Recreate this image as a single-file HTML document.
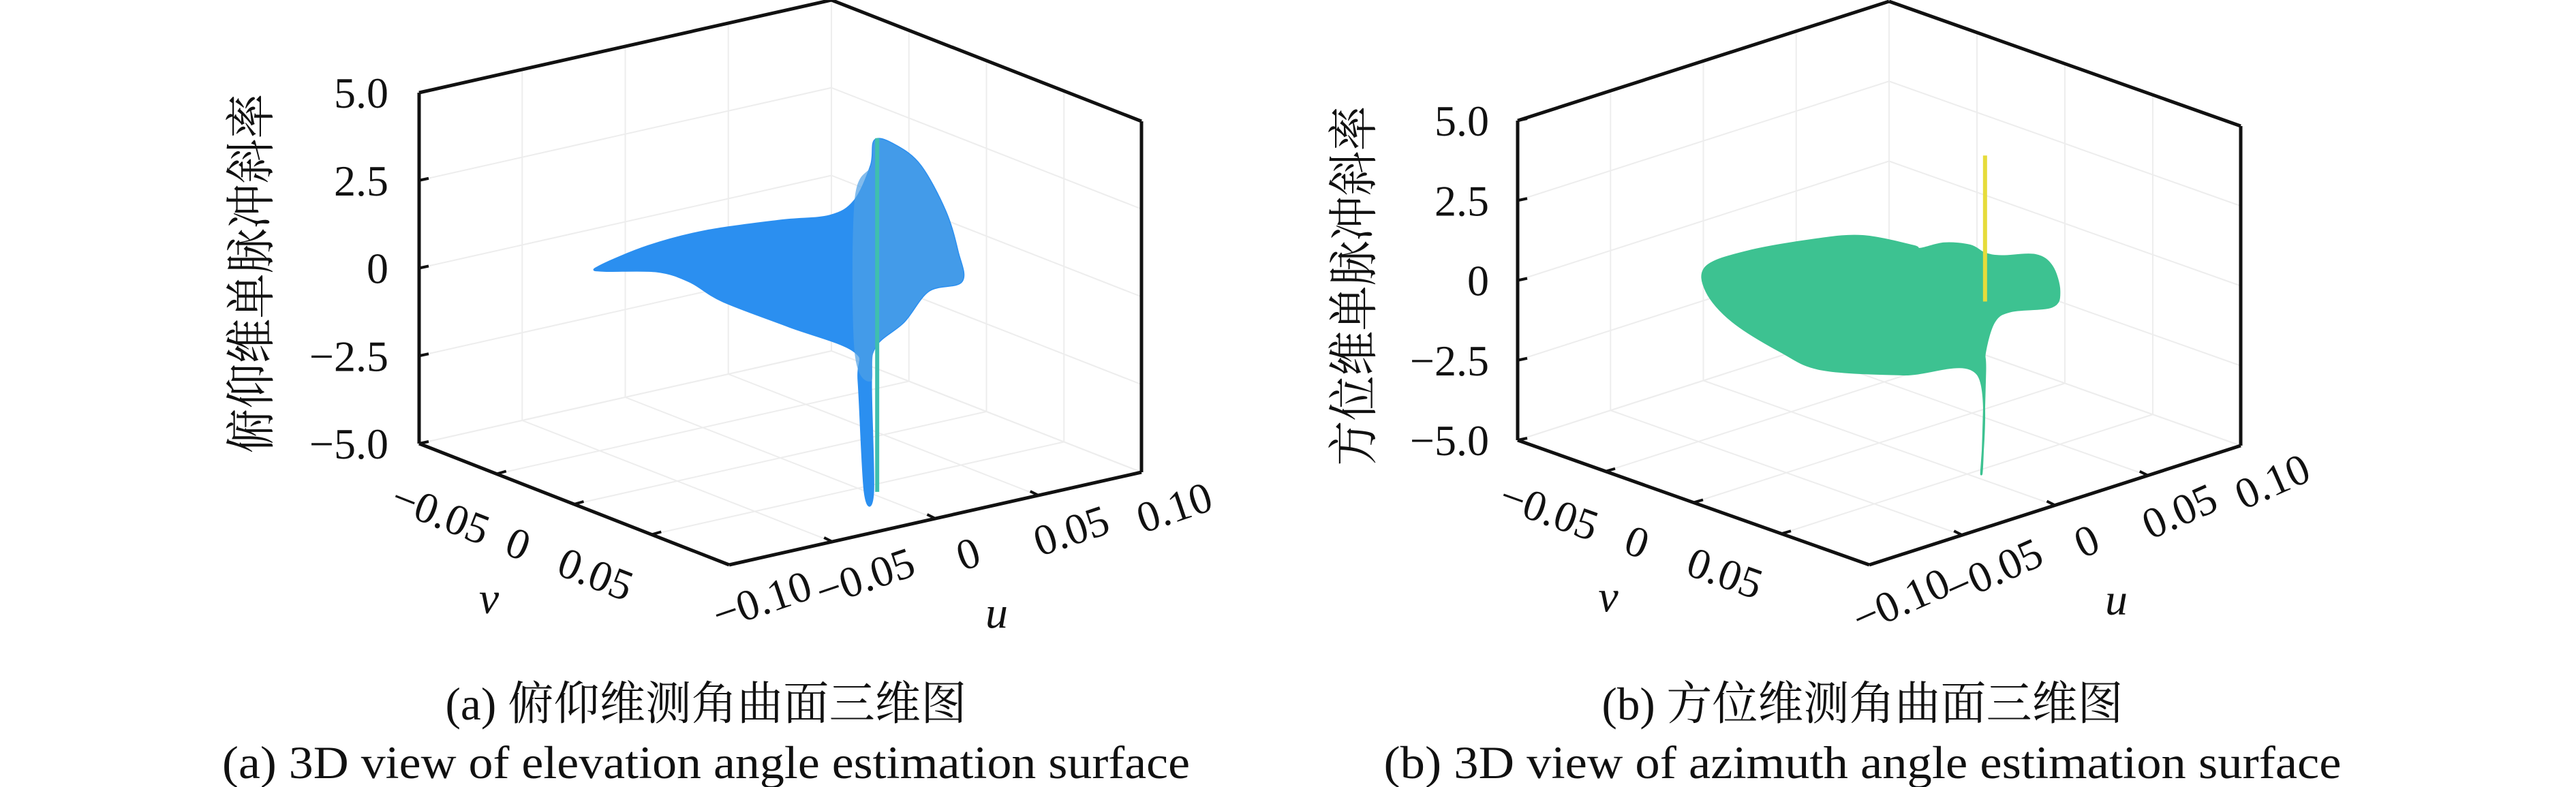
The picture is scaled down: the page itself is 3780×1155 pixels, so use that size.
<!DOCTYPE html>
<html><head><meta charset="utf-8"><style>
html,body{margin:0;padding:0;background:#fff;}
svg{display:block;}
text{font-family:"Liberation Serif","Noto Serif CJK SC",serif;fill:#111;}
</style></head><body>
<svg id="fig" width="3780" height="1155" viewBox="0 0 3780 1155" xmlns="http://www.w3.org/2000/svg">
<rect width="3780" height="1155" fill="#fff"/>
<g id="pa"></g>
<g id="pb"></g>
<text x="1036" y="1056" font-size="68" text-anchor="middle" textLength="765" lengthAdjust="spacingAndGlyphs">(a) 俯仰维测角曲面三维图</text>
<text x="1036" y="1142" font-size="68" text-anchor="middle" textLength="1420" lengthAdjust="spacingAndGlyphs">(a) 3D view of elevation angle estimation surface</text>
<text x="2733" y="1056" font-size="68" text-anchor="middle" textLength="765" lengthAdjust="spacingAndGlyphs">(b) 方位维测角曲面三维图</text>
<text x="2733" y="1142" font-size="68" text-anchor="middle" textLength="1405" lengthAdjust="spacingAndGlyphs">(b) 3D view of azimuth angle estimation surface</text>
</svg>
<script>
const zTicks=[-5,-2.5,0,2.5,5];
const zTickLabels=["−5.0","−2.5","0","2.5","5.0"];
const uTicks=[-0.1,-0.05,0,0.05,0.1];
const uTickLabels=["−0.10","−0.05","0","0.05","0.10"];
const vTicks=[-0.05,0,0.05];
const vTickLabels=["−0.05","0","0.05"];
const aSurfU=[-0.088,-0.064,-0.036,0.0,0.024,0.036,0.044,0.046,0.056,0.068,0.080,0.086,0.088,0.072,0.060,0.046,0.044,0.045,0.041,0.038,0.036,0.004,-0.028,-0.044,-0.060,-0.086];
const aSurfZ=[1.61,1.88,1.94,1.76,1.58,1.85,2.75,3.45,3.16,2.43,0.98,-0.25,-1.13,-1.19,-1.91,-2.44,-3.40,-6.56,-6.51,-3.32,-2.44,-1.30,-0.16,0.61,1.11,1.47];
const aMeshIdx=[5,6,7,8,9,10,11,12,13,14,15,16,20];
const aSpikeU=[0.047,0.047];
const aSpikeZ=[3.49,-6.59];
const bSurfU=[-0.093,-0.071,-0.035,-0.009,0.018,0.022,0.035,0.049,0.057,0.066,0.084,0.093,0.097,0.093,0.071,0.062,0.057,0.057,0.055,0.053,0.013,-0.031,-0.053,-0.079,-0.093];
const bSurfZ=[2.25,2.31,2.01,1.64,0.83,0.66,0.59,0.26,-0.14,-0.39,-0.69,-1.21,-2.06,-2.47,-2.20,-2.36,-3.21,-3.90,-7.01,-3.84,-3.10,-2.12,-1.15,0.28,1.48];
const bSpikeU=[0.057,0.057];
const bSpikeZ=[2.93,-1.64];

const NS="http://www.w3.org/2000/svg";
function mk(parent,tag,attrs){const e=document.createElementNS(NS,tag);for(const k in attrs)e.setAttribute(k,attrs[k]);parent.appendChild(e);return e;}
function smooth(pts){const n=pts.length;let d=`M${pts[0][0]},${pts[0][1]}`;
  for(let i=0;i<n;i++){const p0=pts[(i-1+n)%n],p1=pts[i],p2=pts[(i+1)%n],p3=pts[(i+2)%n];
    const c1=[p1[0]+(p2[0]-p0[0])/6,p1[1]+(p2[1]-p0[1])/6],c2=[p2[0]-(p3[0]-p1[0])/6,p2[1]-(p3[1]-p1[1])/6];
    d+=` C${c1[0]},${c1[1]} ${c2[0]},${c2[1]} ${p2[0]},${p2[1]}`;}
  return d+'Z';}

function panel(gid,P,title,surfU,surfZ,fill,spikeU,spikeZ,spikeColor,meshIdx,titleX,tickRight){
  const g=document.getElementById(gid);
  const proj=(u,v,z)=>[P.F[0]+(u+0.1)/0.2*P.U[0]+(v-0.1)/0.2*P.V[0], P.F[1]+(u+0.1)/0.2*P.U[1]+(v-0.1)/0.2*P.V[1]-(z+5)/10*P.H];
  const line=(a,b,stroke,w,name)=>{const l=mk(g,'line',{x1:a[0],y1:a[1],x2:b[0],y2:b[1],stroke:stroke,'stroke-width':w});
    
    return l;};
  const gc="#ededed";
  uTicks.forEach(u=>{line(proj(u,-0.1,-5),proj(u,-0.1,5),gc,2,'grid-line-u-wall');line(proj(u,-0.1,-5),proj(u,0.1,-5),gc,2,'grid-line-u-floor');});
  vTicks.concat([-0.1,0.1]).forEach(v=>{line(proj(0.1,v,-5),proj(0.1,v,5),gc,2,'grid-line-v-wall');line(proj(-0.1,v,-5),proj(0.1,v,-5),gc,2,'grid-line-v-floor');});
  zTicks.forEach(z=>{line(proj(-0.1,-0.1,z),proj(0.1,-0.1,z),gc,2,'grid-line-z');line(proj(0.1,-0.1,z),proj(0.1,0.1,z),gc,2,'grid-line-z');});
  const pts=surfU.map((u,i)=>proj(u,0,surfZ[i]));
  const s=mk(g,'path',{d:smooth(pts),fill:fill,stroke:fill,'stroke-width':3,'stroke-linejoin':'round'});
  
  
  if(meshIdx){const mp=meshIdx.map(i=>pts[i]);
    const m=mk(g,'path',{d:smooth(mp),fill:'#4f9fe6',stroke:'none',opacity:0.7});
    
    }
  line(proj(spikeU[0],0,spikeZ[0]),proj(spikeU[1],0,spikeZ[1]),spikeColor,6,'surface-spike');
  const k="#111";
  line(proj(-0.1,-0.1,-5),proj(-0.1,-0.1,5),k,5,'z-axis-line');
  line(proj(-0.1,-0.1,5),proj(0.1,-0.1,5),k,5,'box-edge');
  line(proj(0.1,-0.1,5),proj(0.1,0.1,5),k,5,'box-edge');
  line(proj(0.1,0.1,5),proj(0.1,0.1,-5),k,5,'box-edge');
  line(proj(-0.1,-0.1,-5),proj(-0.1,0.1,-5),k,5,'v-axis-line');
  line(proj(-0.1,0.1,-5),proj(0.1,0.1,-5),k,5,'u-axis-line');
  zTicks.forEach((z,i)=>{const p=proj(-0.1,-0.1,z);line(p,[p[0]+14,p[1]-3],k,4,'z-tick');
    const t=mk(g,'text',{x:tickRight,y:p[1]+22,'font-size':64,'text-anchor':'end'});t.textContent=zTickLabels[i];
    
    });
  const vang=Math.atan2(P.V[1],P.V[0])*180/Math.PI;
  vTicks.forEach((v,i)=>{const p=proj(-0.1,v,-5);line(p,[p[0]+14,p[1]-4],k,4,'v-tick');
    const q=[p[0]-90,p[1]+78];
    const t=mk(g,'text',{x:q[0],y:q[1],'font-size':64,'text-anchor':'middle',transform:`rotate(${vang} ${q[0]} ${q[1]})`});t.textContent=vTickLabels[i];
    
    });
  const uang=Math.atan2(P.U[1],P.U[0])*180/Math.PI;
  uTicks.forEach((u,i)=>{const p=proj(u,0.1,-5);if(i>0&&i<4)line(p,[p[0]-12,p[1]-6],k,4,'u-tick');
    const q=[p[0]+55,p[1]+72];
    const t=mk(g,'text',{x:q[0],y:q[1],'font-size':64,'text-anchor':'middle',transform:`rotate(${uang-6} ${q[0]} ${q[1]})`});t.textContent=uTickLabels[i];
    
    });
  const vl=proj(-0.1,0,-5);const vt=mk(g,'text',{x:vl[0]-125,y:vl[1]+160,'font-size':66,'font-style':'italic','text-anchor':'middle'});vt.textContent="v";
  
  
  const ul=proj(0,0.1,-5);const ut=mk(g,'text',{x:ul[0]+90,y:ul[1]+160,'font-size':66,'font-style':'italic','text-anchor':'middle'});ut.textContent="u";
  
  
  const zc=proj(-0.1,-0.1,0);
  const zt=mk(g,'text',{x:titleX,y:zc[1]+8,'font-size':74,'text-anchor':'middle',textLength:528,lengthAdjust:'spacingAndGlyphs',transform:`rotate(-90 ${titleX} ${zc[1]+8})`});zt.textContent=title;
  
  
}
panel('pa',{F:[1070,829],U:[605,-136],V:[455,178],H:515},"俯仰维单脉冲斜率",aSurfU,aSurfZ,"#2b8ff0",aSpikeU,aSpikeZ,"#3fbfae",aMeshIdx,394,570);
panel('pb',{F:[2743,829],U:[545,-175],V:[516,183],H:469},"方位维单脉冲斜率",bSurfU,bSurfZ,"#3dc291",bSpikeU,bSpikeZ,"#e6dc3a",null,2012,2185);
</script>
</body></html>
